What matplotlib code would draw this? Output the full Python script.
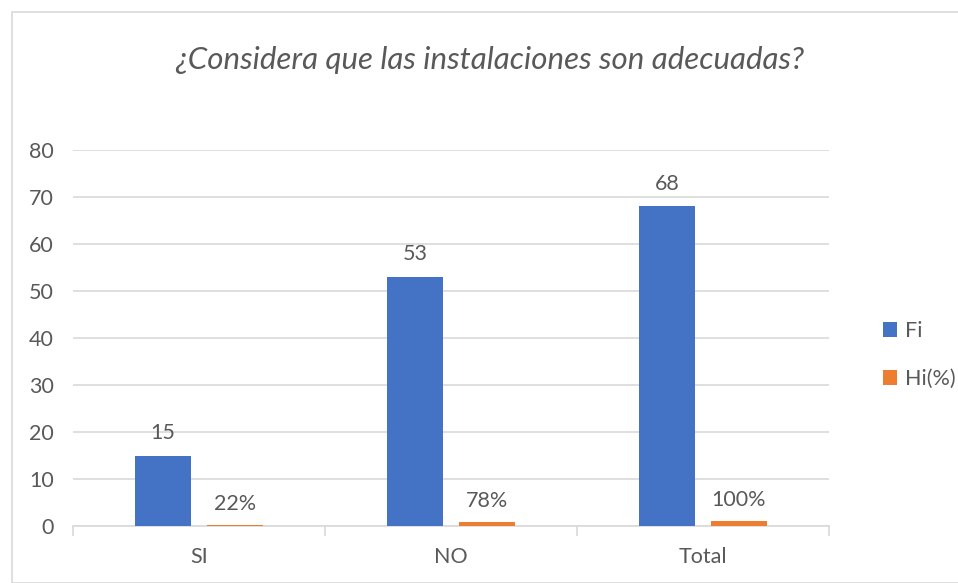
import matplotlib.pyplot as plt
import numpy as np
from matplotlib.patches import Rectangle

categories = ["SI", "NO", "Total"]
fi_values = [15, 53, 68]
hi_values = [0.22, 0.78, 1.00]
hi_labels = ["22%", "78%", "100%"]
y_ticks = [0, 10, 20, 30, 40, 50, 60, 70, 80]

blue = "#4472C4"
orange = "#ED7D31"
text_color = "#595959"
grid_color = "#D9D9D9"

plt.rcParams['font.family'] = ['Lato', 'DejaVu Sans']

fig = plt.figure(figsize=(9.58, 5.83), dpi=100)
fig.patches.append(Rectangle((12 / 958, 0), 1, 1 - 12 / 583, transform=fig.transFigure,
                             fill=False, edgecolor=grid_color, linewidth=1.2))

ax = fig.add_axes([73 / 958, 1 - 526 / 583, (829 - 73) / 958, (526 - 150) / 583])

x = np.arange(len(categories))
width = 0.222
offset = 0.143
fi_bars = ax.bar(x - offset, fi_values, width, color=blue, label="Fi", zorder=3)
hi_bars = ax.bar(x + offset, hi_values, width, color=orange, label="Hi(%)", zorder=3)

fs = 15.5
for bar, v in zip(fi_bars, fi_values):
    ax.annotate(str(v), (bar.get_x() + bar.get_width() / 2, bar.get_height()),
                xytext=(0, 9), textcoords="offset points", ha="center", va="bottom",
                fontsize=fs, color=text_color)
for bar, lab in zip(hi_bars, hi_labels):
    ax.annotate(lab, (bar.get_x() + bar.get_width() / 2, bar.get_height()),
                xytext=(0, 8), textcoords="offset points", ha="center", va="bottom",
                fontsize=fs, color=text_color)

ax.set_xlim(-0.5, len(categories) - 0.5)
ax.set_ylim(0, 80)
ax.set_yticks(y_ticks)
ax.set_xticks(x)
ax.set_xticklabels(categories)
ax.set_xticks(np.arange(len(categories) + 1) - 0.5, minor=True)
ax.tick_params(axis="x", which="major", length=0, pad=15, labelsize=fs, labelcolor=text_color)
ax.tick_params(axis="x", which="minor", length=7, color=grid_color, width=1.2)
ax.tick_params(axis="y", length=0, pad=14, labelsize=fs, labelcolor=text_color)
ax.yaxis.grid(True, color=grid_color, linewidth=1.2, zorder=0)
for side in ["top", "right", "left"]:
    ax.spines[side].set_visible(False)
ax.spines["bottom"].set_color(grid_color)
ax.spines["bottom"].set_linewidth(1.2)

fig.text(490 / 958, 1 - 60 / 583, "¿Considera que las instalaciones son adecuadas?",
         ha="center", va="center", fontsize=22.5, style="italic", color=text_color)

fig.legend(handles=[fi_bars, hi_bars], labels=["Fi", "Hi(%)"],
           loc="center left", bbox_to_anchor=(864 / 958, 1 - 355 / 583),
           frameon=False, fontsize=fs, labelcolor=text_color,
           handlelength=0.65, handleheight=0.65, handletextpad=0.35, labelspacing=1.3)

fig.savefig("out.png", dpi=100)
